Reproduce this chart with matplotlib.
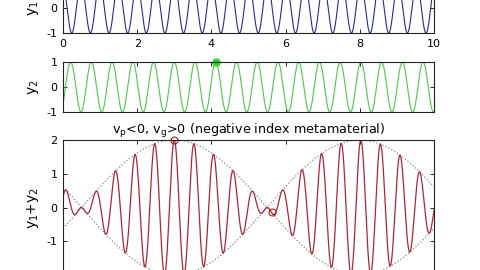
import numpy as np
import matplotlib
matplotlib.use('Agg')
from matplotlib import pyplot as plt

# values
lam1 = 0.5026        # wavelength of y1
lam2 = 0.5588        # wavelength of y2
x_crest = 3.0        # place where both waves peak together
x_dot = 4.118        # green dot on y2
x_ring = 5.62        # small ring near the node
xlim = [0, 10]
xticks = [0, 2, 4, 6, 8, 10]
title = 'v$_p$<0, v$_g$>0 (negative index metamaterial)'

plt.rcParams['font.family'] = ['DejaVu Sans']
plt.rcParams['mathtext.default'] = 'regular'
plt.rcParams['axes.unicode_minus'] = False

x = np.linspace(xlim[0], xlim[1], 3001)
k1 = 2*np.pi/lam1
k2 = 2*np.pi/lam2
y1 = np.cos(k1*(x - x_crest))
y2 = np.cos(k2*(x - x_crest))
ys = y1 + y2
env = 2*np.cos(0.5*(k1 - k2)*(x - x_crest))

fig = plt.figure(figsize=(4.8, 2.7), dpi=100)
W, H = 480., 270.
left = 63/W
width = 371/W

def style(ax):
    ax.tick_params(direction='in', length=3, width=0.6, top=True, right=True,
                   labelsize=8, pad=4, colors='black')
    for s in ax.spines.values():
        s.set_linewidth(0.8)
        s.set_color('#222222')

ax1 = fig.add_axes([left, 1 - 33/H, width, 50/H])
ax1.plot(x, y1, color='#2a2a96', lw=0.8)
ax1.set_xlim(xlim)
ax1.set_ylim(-1, 1)
ax1.set_xticks(xticks)
ax1.set_yticks([-1, 0, 1])
ax1.set_ylabel('y$_1$', fontsize=10, labelpad=4)
style(ax1)

ax2 = fig.add_axes([left, 1 - 112/H, width, 50/H])
ax2.plot(x, y2, color='#4cc84c', lw=0.8)
ax2.plot([x_dot], [np.cos(k2*(x_dot - x_crest))], 'o', color='#22dd22', ms=5, clip_on=False)
ax2.set_xlim(xlim)
ax2.set_ylim(-1, 1)
ax2.set_xticks(xticks)
ax2.set_xticklabels([])
ax2.set_yticks([-1, 0, 1])
ax2.set_ylabel('y$_2$', fontsize=10, labelpad=4)
style(ax2)

ax3 = fig.add_axes([left, 1 - 275/H, width, 135/H])
ax3.plot(x, env, ':', color='#888888', lw=0.9)
ax3.plot(x, -env, ':', color='#888888', lw=0.9)
ax3.plot(x, ys, color='#a82838', lw=0.9)
ax3.plot([x_crest], [2], 'o', mfc='none', mec='#a02020', ms=5, mew=0.8, clip_on=False)
y_ring = np.cos(k1*(x_ring - x_crest)) + np.cos(k2*(x_ring - x_crest))
ax3.plot([x_ring], [y_ring], 'o', mfc='none', mec='#a02020', ms=5, mew=0.8)
ax3.set_xlim(xlim)
ax3.set_ylim(-2, 2)
ax3.set_xticks(xticks)
ax3.set_xticklabels([])
ax3.set_yticks([-2, -1, 0, 1, 2])
ax3.set_ylabel('y$_1$+y$_2$', fontsize=10, labelpad=4)
ax3.set_title(title, fontsize=9.2, pad=4)
style(ax3)

fig.savefig('out.png', dpi=100)
